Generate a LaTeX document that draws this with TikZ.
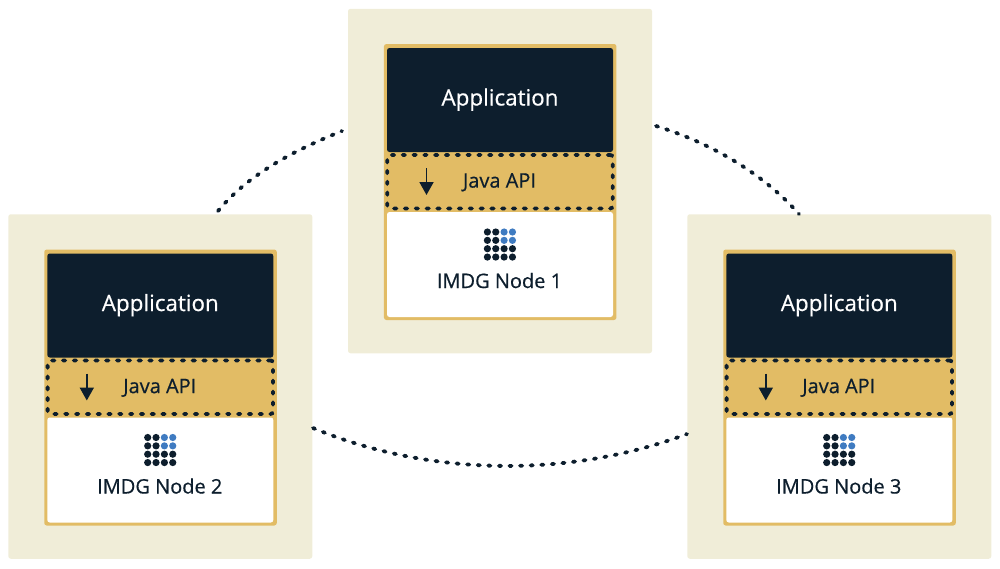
\documentclass[tikz,border=0pt]{standalone}
\usepackage{fontspec}
\setmainfont{Open Sans}
\newfontfamily\labelfont[FakeBold=0.5]{Open Sans}
\usetikzlibrary{arrows.meta}
\definecolor{panelcream}{HTML}{F0EDD8}
\definecolor{apigold}{HTML}{E2BC65}
\definecolor{appnavy}{HTML}{0D1E2D}
\definecolor{gridblue}{HTML}{3F7BC1}
\tikzset{
  box/.style={rectangle,rounded corners=2.5pt,outer sep=0pt,inner sep=0pt},
  panelbox/.style={box,fill=panelcream,minimum width=304,minimum height=344.5},
  stackbox/.style={box,fill=apigold,minimum width=232.5,minimum height=276},
  appbox/.style={box,fill=appnavy,minimum width=226,minimum height=104},
  apibox/.style={box,fill=apigold,draw=appnavy,line width=3.8pt,line cap=round,dash pattern=on 2.4pt off 8.4pt,minimum width=225.4,minimum height=53.5},
  nodebox/.style={box,fill=white,minimum width=226,minimum height=105},
  applabel/.style={text=white,font=\labelfont\fontsize{22.4}{26}\selectfont},
  apilabel/.style={text=appnavy,font=\labelfont\fontsize{20}{24}\selectfont},
  nodelabel/.style={text=appnavy,font=\labelfont\fontsize{20}{24}\selectfont},
  griddot/.style={circle,fill=#1,minimum size=7.2,inner sep=0pt,outer sep=0pt},
  downarrow/.style={draw=appnavy,line width=1.9pt,-{Triangle[length=13pt,width=14pt]}},
  ringlink/.style={draw=appnavy,line width=3.8pt,line cap=round,dash pattern=on 2.2pt off 8.4pt}
}
\begin{document}
\begin{tikzpicture}[x=1pt,y=-1pt]
  \useasboundingbox (0,0) rectangle (1000,568);
  % one panel per IMDG member
  \foreach \idx/\dx/\dy in {1/0/0,2/-339.7/205.5,3/339.3/205.5} {
    \begin{scope}[shift={(\dx,\dy)},name prefix=m\idx-]
      \node[panelbox] (panel) at (500,181) {};
      \node[stackbox] (stack) at (500.2,182) {};
      \node[appbox] (app) at (500,100) {};
      \node[applabel] (applabel) at (500,99.7) {Application};
      \node[apibox] (api) at (500,181.7) {};
      \node[apilabel] (apilabel) at (499.5,182.3) {Java API};
      \coordinate (arrowtop) at (426.5,168);
      \coordinate (arrowend) at (426.5,195);
      \draw[downarrow] (arrowtop) -- (arrowend);
      \node[nodebox] (member) at (500,264.5) {};
      \node[nodelabel] (memberlabel) at (499.5,280.5) {IMDG Node \idx};
      % dot grid icon
      \foreach \row in {0,1,2,3} {
        \foreach \col in {0,1,2,3} {
          \pgfmathsetmacro{\dotcolor}{(\row<2 && \col>1) ? "gridblue" : "appnavy"}
          \node[griddot=\dotcolor] (dot\row\col) at (487.4+8.35*\col,232+8.35*\row) {};
        }
      }
    \end{scope}
  }
  % ring between the members
  \coordinate (ringa) at (218,211);
  \coordinate (ringb) at (342,131);
  \coordinate (ringc) at (656,126);
  \coordinate (ringd) at (799,214);
  \coordinate (ringe) at (313,428);
  \coordinate (ringf) at (687,434);
  \draw[ringlink] (ringa) .. controls (250,172) and (300,148) .. (ringb);
  \draw[ringlink] (ringc) .. controls (705,141) and (760,170) .. (ringd);
  \draw[ringlink] (ringe) .. controls (430,477) and (570,478) .. (ringf);
\end{tikzpicture}
\end{document}
